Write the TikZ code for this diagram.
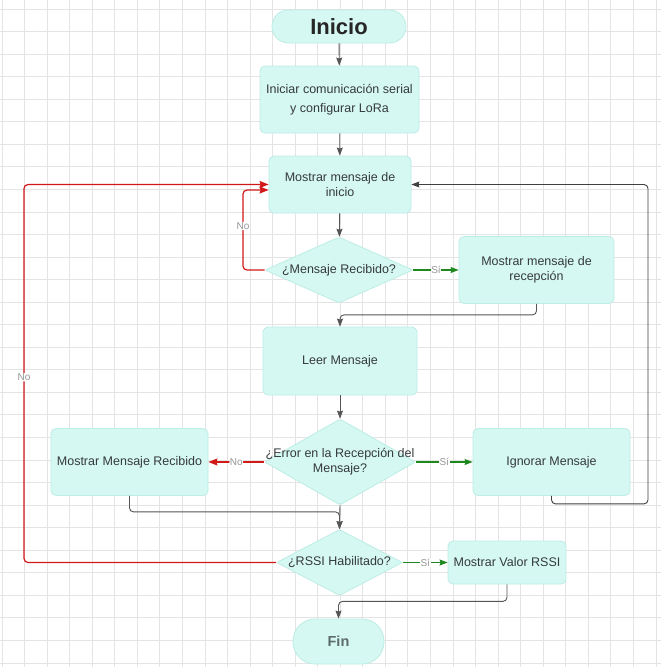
\documentclass[tikz,border=0pt]{standalone}
\usepackage{fontspec}
\setmainfont{Liberation Sans}
\usetikzlibrary{shapes.geometric,arrows.meta,calc}
\definecolor{boxfill}{RGB}{214,248,243}
\definecolor{boxline}{RGB}{188,237,229}
\definecolor{txt}{RGB}{52,58,58}
\definecolor{gridc}{RGB}{228,228,228}
\definecolor{flowgray}{RGB}{85,85,85}
\definecolor{noRed}{RGB}{210,25,25}
\definecolor{siGreen}{RGB}{30,135,30}
\definecolor{lbl}{RGB}{150,150,150}
\definecolor{fintxt}{RGB}{92,108,108}

\begin{document}
\begin{tikzpicture}[x=1pt,y=-1pt,
  gridline/.style={draw=gridc,line width=0.9pt},
  box/.style={draw=boxline,fill=boxfill,rounded corners=5pt,line width=0.8pt,
    align=center,text=txt,font=\fontsize{12.5}{15}\selectfont,inner sep=0pt},
  term/.style={draw=boxline,fill=boxfill,line width=0.8pt,inner sep=0pt},
  decision/.style={diamond,draw=boxline,fill=boxfill,line width=0.8pt,
    inner sep=0pt,rounded corners=2pt},
  dtext/.style={align=center,text=txt,font=\fontsize{12.5}{15}\selectfont,inner sep=0pt},
  tip/.style={-{Stealth[length=8pt,width=6pt,inset=1pt]}},
  gline/.style={tip,draw=flowgray,line width=0.9pt,rounded corners=4pt},
  nline/.style={-{Stealth[length=9pt,width=7pt,inset=1pt]},draw=noRed,line width=1.2pt,rounded corners=4pt},
  sline/.style={-{Stealth[length=8pt,width=6pt,inset=1pt]},draw=siGreen,line width=1.2pt},
  lab/.style={fill=white,text=lbl,font=\fontsize{10}{12}\selectfont,inner sep=0.6pt}
]
% canvas and background grid
\useasboundingbox (0,0) rectangle (661,667);
\fill[white] (0,0) rectangle (661,667);
\foreach \i in {0,...,29} {
  \draw[gridline] ({2+22.55*\i},0) -- ({2+22.55*\i},667);
  \draw[gridline] (0,{9+22.55*\i}) -- (661,{9+22.55*\i});
}

% nodes
\node[term,rounded corners=16.5pt,minimum width=134pt,minimum height=33pt,
  text=black!85,font=\fontsize{22}{24}\selectfont\bfseries] (start) at (339,26.5) {Inicio};
\node[box,minimum width=159pt,minimum height=67pt,font=\fontsize{12.5}{19.5}\selectfont]
  (init) at (339.5,99.5) {Iniciar comunicación serial\\y configurar LoRa};
\node[box,minimum width=142pt,minimum height=57pt] (show) at (340,184.5) {Mostrar mensaje de\\inicio};
\node[decision,minimum width=148pt,minimum height=66pt] (d1) at (339,270) {};
\node[dtext] (d1t) at (d1) {¿Mensaje Recibido?};
\node[box,minimum width=155pt,minimum height=67pt] (recv) at (536.5,270) {Mostrar mensaje de\\recepción};
\node[box,minimum width=154pt,minimum height=68pt] (read) at (340,361) {Leer Mensaje};
\node[decision,minimum width=151pt,minimum height=86pt] (d2) at (340,462) {};
\node[dtext] (d2t) at (d2) {¿Error en la Recepción del\\Mensaje?};
\node[box,minimum width=157pt,minimum height=67pt] (shown) at (129.5,462) {Mostrar Mensaje Recibido};
\node[box,minimum width=157pt,minimum height=67pt] (ignore) at (551.5,462) {Ignorar Mensaje};
\node[decision,minimum width=126pt,minimum height=66pt] (d3) at (339.5,562.5) {};
\node[dtext] (d3t) at (d3) {¿RSSI Habilitado?};
\node[box,minimum width=118pt,minimum height=43pt] (rssi) at (507,562.5) {Mostrar Valor RSSI};
\node[term,rounded corners=22pt,minimum width=91pt,minimum height=45pt,
  text=fintxt,font=\fontsize{14.5}{16}\selectfont\bfseries] (fin) at (338.5,641.5) {Fin};

% routing points
\coordinate (noIn) at (243,0);
\coordinate (noOut) at (24,0);
\coordinate (loopR) at (648,0);
\coordinate (showIn) at ($(show.west)+(0,5.5)$);

% main flow
\draw[gline] (start) -- (init);
\draw[gline] (init) -- (show);
\draw[gline] (show) -- (d1);
\draw[sline] (d1.east) -- (recv.west) node[midway,lab] {Sí};
\draw[nline] (d1.west) -- (d1.west -| noIn) -- (showIn -| noIn)
  node[pos=0.55,lab] {No} -- (showIn);
\draw[gline] (recv.south) -- ++(0,11) -| (read.north);
\draw[gline] (read) -- (d2);
\draw[nline] (d2.west) -- (shown.east) node[midway,lab] {No};
\draw[sline] (d2.east) -- (ignore.west) node[midway,lab] {Sí};
\draw[gline,draw=black!75] (ignore.south) -- ++(0,8) -| (show.east -| loopR)
  -- (show.east);
\draw[gline] (d2.south) -- (d3.north);
\draw[gline] (shown.south) -- ++(0,16) -| (d3.north);
\draw[sline] (d3.east) -- (rssi.west) node[midway,lab] {Sí};
\draw[nline] (d3.west) -- (d3.west -| noOut) -- (show.west -| noOut)
  node[pos=0.49,lab] {No} -- (show.west);
\draw[gline] (rssi.south) -- ++(0,17) -| (fin.north);
\end{tikzpicture}
\end{document}
